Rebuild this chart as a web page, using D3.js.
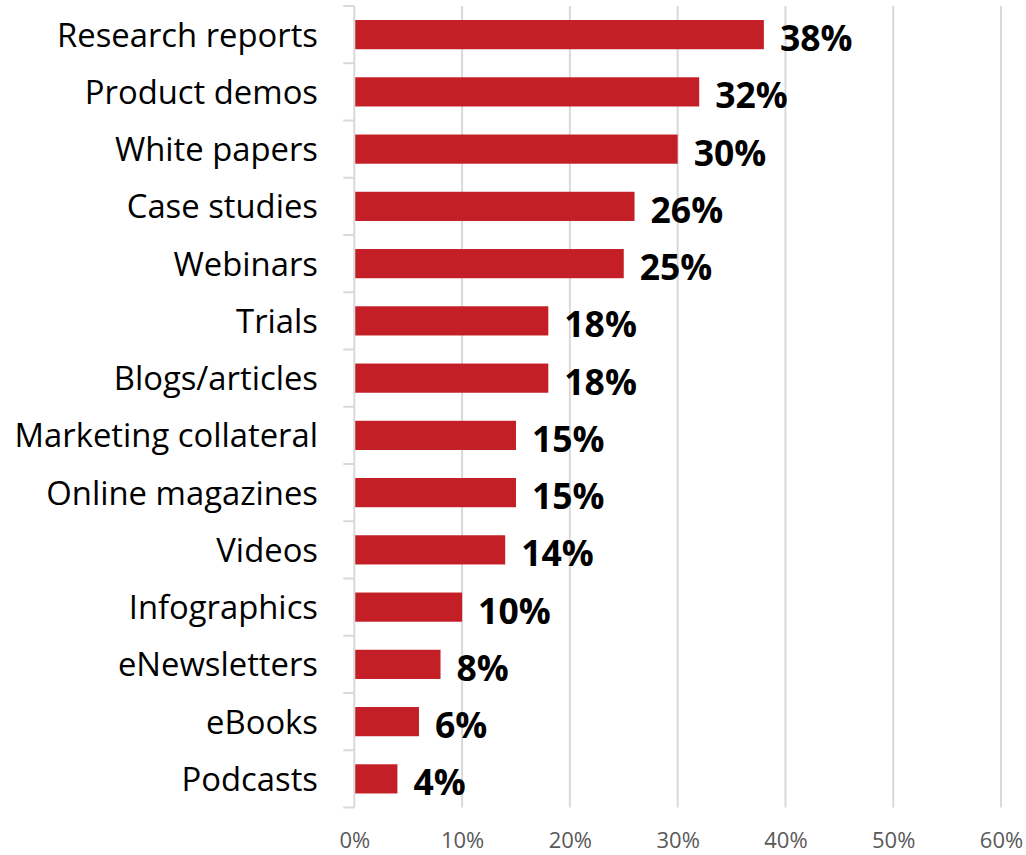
<!DOCTYPE html>
<html>
<head>
<meta charset="utf-8">
<script src="https://cdn.jsdelivr.net/npm/d3@7"></script>
<style>
  html, body { margin: 0; padding: 0; background: #fff; }
  svg { display: block; }
  text { font-family: "Open Sans", Lato, sans-serif; }
</style>
</head>
<body>
<svg id="chart" width="1026" height="855"></svg>
<script>
// Content types and share of respondents (%)
const categories = [
  "Research reports", "Product demos", "White papers", "Case studies",
  "Webinars", "Trials", "Blogs/articles", "Marketing collateral",
  "Online magazines", "Videos", "Infographics", "eNewsletters",
  "eBooks", "Podcasts"
];
const values = [38, 32, 30, 26, 25, 18, 18, 15, 15, 14, 10, 8, 6, 4];
const xTicks = [0, 10, 20, 30, 40, 50, 60];

const svg = d3.select("#chart");
const margin = { top: 6, left: 354.3, right: 25, bottom: 48 };
const width = 1026, height = 855;

const x = d3.scaleLinear().domain([0, 60]).range([margin.left, 1001]);
const y = d3.scaleBand().domain(categories)
  .range([margin.top, height - margin.bottom + 0.5])
  .paddingInner(0.49).paddingOuter(0.245);

// vertical gridlines
svg.append("g")
  .selectAll("line")
  .data(xTicks.slice(1))
  .join("line")
  .attr("x1", d => x(d)).attr("x2", d => x(d))
  .attr("y1", margin.top).attr("y2", height - margin.bottom + 0.5)
  .attr("stroke", "#d9d9d9").attr("stroke-width", 2);

// bars
svg.append("g")
  .selectAll("rect")
  .data(values)
  .join("rect")
  .attr("x", x(0))
  .attr("y", (d, i) => y(categories[i]))
  .attr("width", d => x(d) - x(0))
  .attr("height", y.bandwidth())
  .attr("fill", "#c41e27");

// category axis with outward ticks at band edges
const yAxisG = svg.append("g").attr("transform", `translate(${x(0)},0)`);
yAxisG.append("line")
  .attr("x1", 0).attr("x2", 0)
  .attr("y1", margin.top).attr("y2", height - margin.bottom + 0.5)
  .attr("stroke", "#d9d9d9").attr("stroke-width", 2);
const step = y.step();
const edges = d3.range(categories.length + 1).map(i => margin.top + i * step);
yAxisG.selectAll("line.tick")
  .data(edges)
  .join("line")
  .attr("class", "tick")
  .attr("x1", -11).attr("x2", 0)
  .attr("y1", d => d).attr("y2", d => d)
  .attr("stroke", "#d9d9d9").attr("stroke-width", 2);

// category labels
svg.append("g")
  .selectAll("text")
  .data(categories)
  .join("text")
  .attr("x", 318)
  .attr("y", d => y(d) + y.bandwidth() / 2)
  .attr("dy", 12)
  .attr("text-anchor", "end")
  .attr("font-size", 32.8)
  .attr("fill", "#000")
  .text(d => d);

// value labels
svg.append("g")
  .selectAll("text")
  .data(values)
  .join("text")
  .attr("x", d => x(d) + 16)
  .attr("y", (d, i) => y(categories[i]) + y.bandwidth() / 2)
  .attr("dy", 16.4)
  .attr("font-size", 35.5)
  .attr("font-weight", "bold")
  .attr("fill", "#000")
  .text(d => d + "%");

// x axis labels
const xAxis = d3.axisBottom(x).tickValues(xTicks).tickFormat(d => d + "%").tickSize(0).tickPadding(0);
const xg = svg.append("g").attr("transform", `translate(0,${height - margin.bottom})`).call(xAxis);
xg.select(".domain").remove();
xg.selectAll("text")
  .attr("y", 41)
  .attr("dy", 0)
  .attr("font-size", 22)
  .attr("font-family", "'Open Sans', Lato, sans-serif")
  .attr("fill", "#595959");
</script>
</body>
</html>
